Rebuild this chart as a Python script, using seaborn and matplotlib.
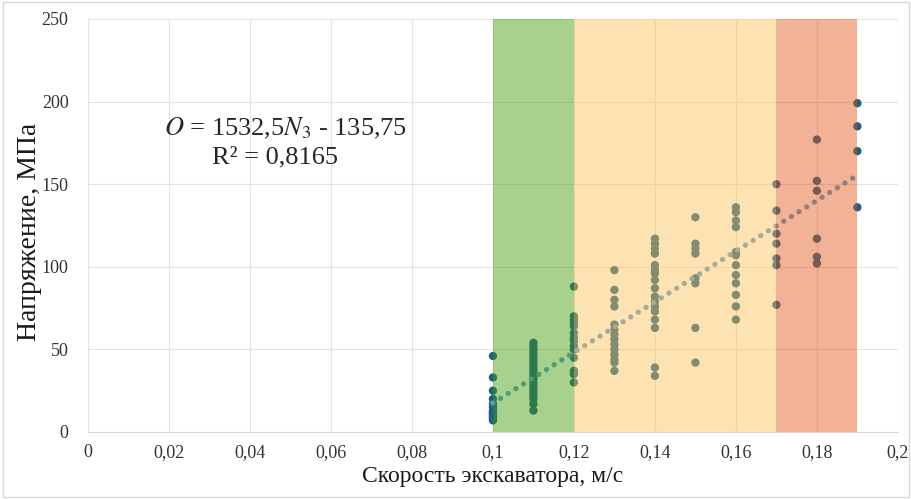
import numpy as np
import pandas as pd
import matplotlib
matplotlib.use("Agg")
import matplotlib.pyplot as plt
import seaborn as sns
from matplotlib.patches import Rectangle
from matplotlib.ticker import FuncFormatter

# измерения: скорость экскаватора -> напряжения
v010 = [46, 33, 25, 20, 17, 15, 13, 12, 11, 10, 9, 8, 7]
v011 = [54, 52, 50, 48, 46, 44, 42, 40, 38, 36, 34, 32, 30, 28, 26, 24, 22, 20, 17, 13]
v012 = [88, 70, 68, 66, 64, 60, 57, 55, 52, 50, 45, 37, 35, 30]
v013 = [98, 86, 80, 76, 65, 62, 59, 56, 53, 50, 47, 44, 42, 37]
v014 = [117, 114, 111, 108, 101, 98, 96, 92, 87, 82, 79, 76, 73, 68, 63, 39, 34]
v015 = [130, 114, 111, 108, 93, 90, 63, 42]
v016 = [136, 133, 128, 124, 109, 107, 101, 95, 90, 83, 76, 68]
v017 = [150, 134, 120, 114, 105, 101, 77]
v018 = [177, 152, 146, 117, 106, 102]
v019 = [199, 185, 170, 136]

speeds = [0.10, 0.11, 0.12, 0.13, 0.14, 0.15, 0.16, 0.17, 0.18, 0.19]
groups = [v010, v011, v012, v013, v014, v015, v016, v017, v018, v019]

slope, intercept = 1532.5, -135.75

zones = [(0.10, 0.12, "#409B04"), (0.12, 0.17, "#FEC354"), (0.17, 0.19, "#E45416")]

df = pd.DataFrame({
    "speed": np.repeat(speeds, [len(g) for g in groups]),
    "stress": np.concatenate(groups),
})

sns.set_style("white")
plt.rcParams["font.family"] = ["Liberation Serif", "DejaVu Serif"]
plt.rcParams["mathtext.fontset"] = "stix"

fig = plt.figure(figsize=(9.12, 4.99), dpi=100)
ax = fig.add_axes([0.0965, 0.1343, 0.888, 0.8277])

sns.scatterplot(data=df, x="speed", y="stress", color="#1E5F87", s=36,
                edgecolor="none", ax=ax, zorder=3)

xt = np.linspace(speeds[0], speeds[-1], 60)
ax.plot(xt, slope * xt + intercept, color="#5B9BD5", lw=3.8,
        linestyle=(0, (0.01, 1.7)), dash_capstyle="round", zorder=4)

for a, b, c in zones:
    ax.axvspan(a, b, color=c, alpha=0.45, lw=0, zorder=5)

ax.set_xlim(0, 0.2)
ax.set_ylim(0, 250)
ax.set_xticks(np.arange(0, 0.201, 0.02))
ax.set_yticks(np.arange(0, 251, 50))
ax.xaxis.set_major_formatter(FuncFormatter(
    lambda v, p: "0" if abs(v) < 1e-9 else ("%g" % round(v, 2)).replace(".", ",")))
ax.grid(True, color="#E3E3E3", lw=0.8, zorder=0)
ax.set_axisbelow(True)
for s in ["top", "right", "left"]:
    ax.spines[s].set_visible(False)
ax.spines["bottom"].set_color("#D9D9D9")
ax.tick_params(length=0, labelsize=13, colors="#333333")
ax.tick_params(axis="y", pad=14)
ax.tick_params(axis="x", pad=9)

ax.set_xlabel("Скорость экскаватора, м/с", fontsize=17, color="#1a1a1a", labelpad=3)
ax.set_ylabel("Напряжение, МПа", fontsize=20, color="#1a1a1a")
ax.yaxis.set_label_coords(-0.057, 0.484)

ax.text(0.0489, 184, r"$O$ = 1532,5$N_3$ - 135,75", fontsize=19, ha="center", va="center")
ax.text(0.0463, 166, "R² = 0,8165", fontsize=19, ha="center", va="center")

fig.patches.append(Rectangle((0.003, 0.004), 0.994, 0.992, transform=fig.transFigure,
                             fill=False, edgecolor="#D9D9D9", lw=1))

fig.savefig("out.png", dpi=100)
